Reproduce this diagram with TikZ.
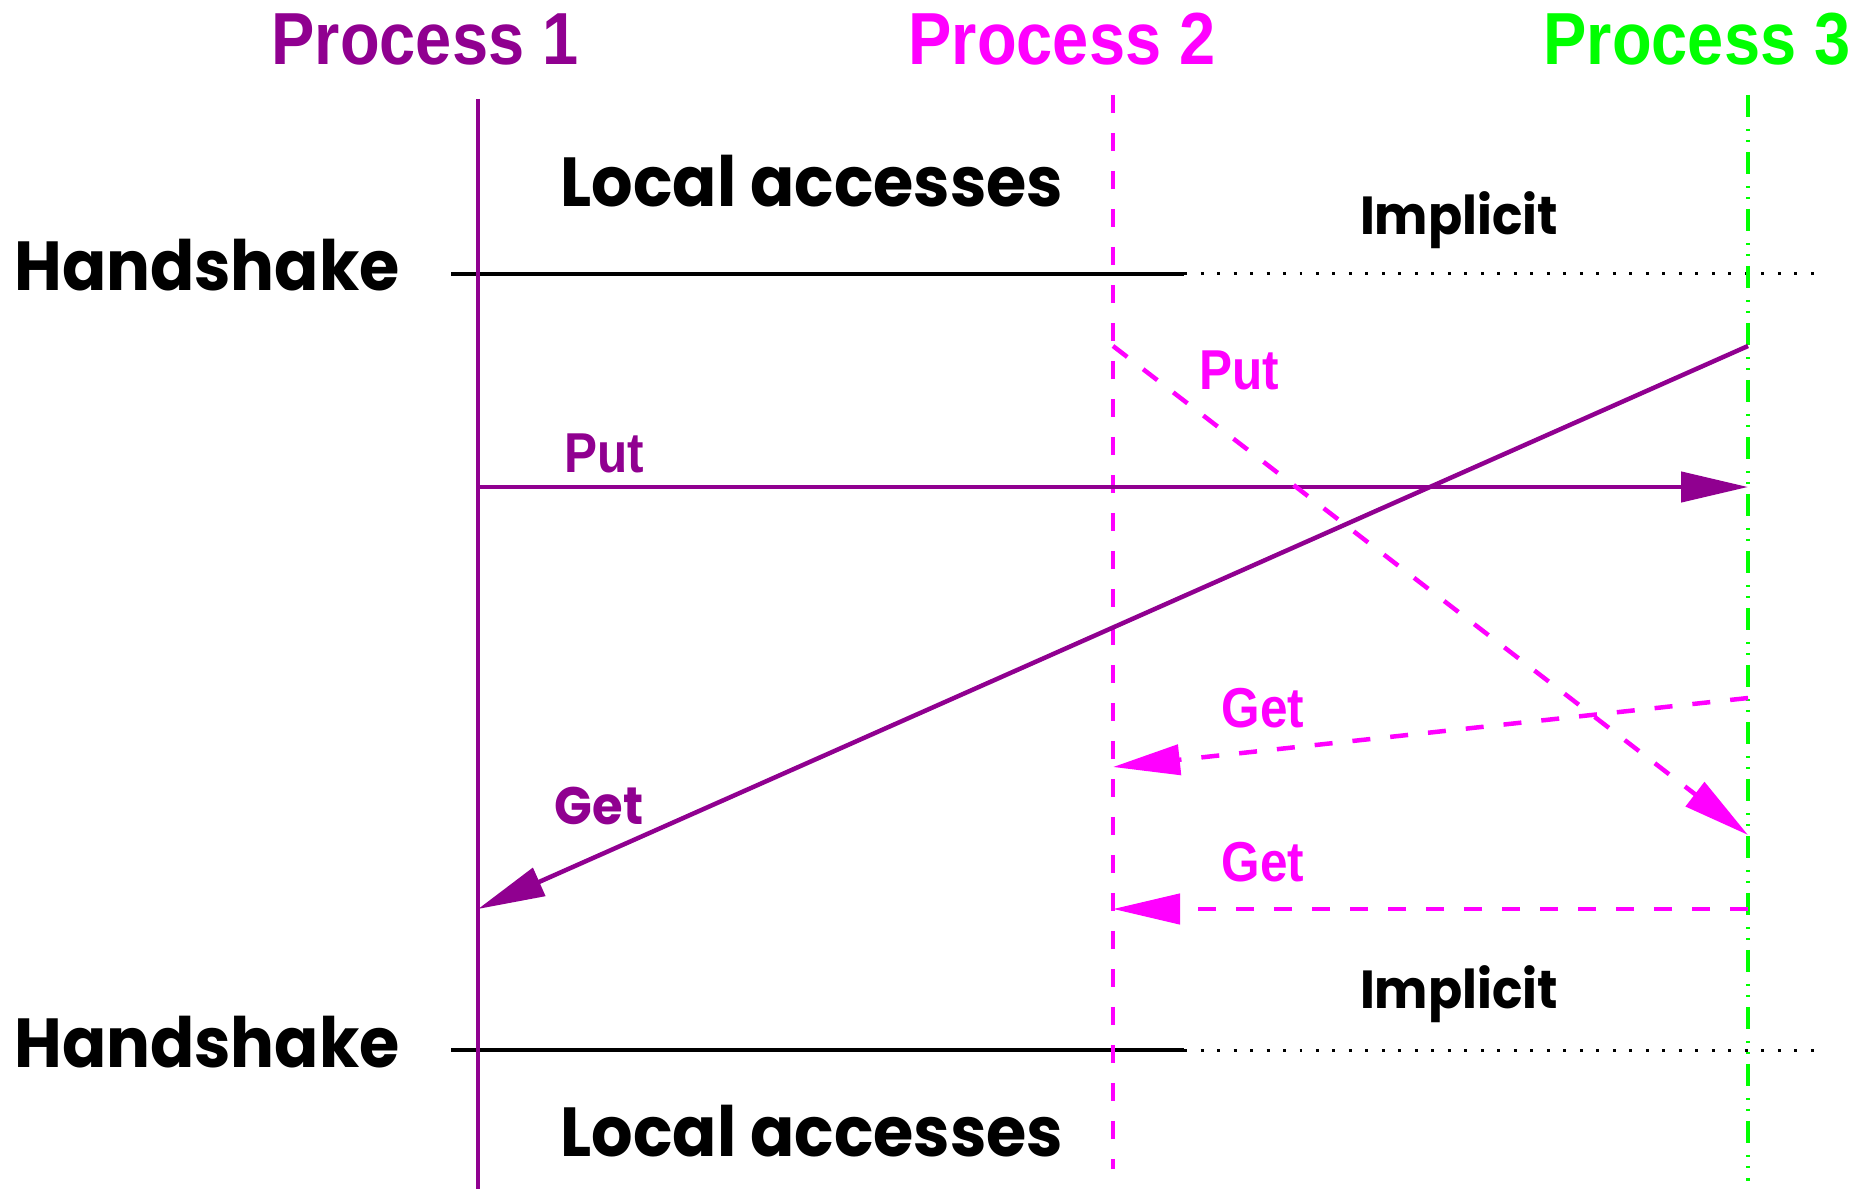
\documentclass[tikz,border=0pt]{standalone}
\usepackage{fontspec}
\usepackage{tikz}
\usetikzlibrary{arrows.meta, positioning}
\setmainfont{Poppins}
\newfontfamily\geofont{Poppins}[FakeStretch=0.94]
\newfontfamily\narrowfont{Liberation Sans}[FakeStretch=0.88]
\definecolor{procA}{RGB}{144,0,144}
\definecolor{procB}{RGB}{255,0,255}
\definecolor{procC}{RGB}{0,255,0}

\begin{document}
\begin{tikzpicture}[
    x=0.02cm, y=-0.02cm,
    title/.style={font=\narrowfont\bfseries\fontsize{42}{42}\selectfont, inner sep=0pt},
    phase/.style={font=\geofont\bfseries\fontsize{39.5}{40}\selectfont, inner sep=0pt},
    note/.style={font=\geofont\bfseries\fontsize{30.5}{31}\selectfont, inner sep=0pt},
    msglbl/.style={font=\narrowfont\bfseries\fontsize{32}{32}\selectfont, inner sep=0pt},
    life/.style={line width=0.09cm},
    dashlife/.style={line width=0.09cm, dash pattern=on 0.36cm off 0.4cm},
    dotlife/.style={line width=0.09cm, dash pattern=on 0.44cm off 0.24cm on 0.04cm off 0.18cm on 0.04cm off 0.2cm},
    sync/.style={line width=0.085cm, black},
    implicit/.style={line width=0.06cm, black, dash pattern=on 0.06cm off 0.27cm},
    msg/.style={line width=0.09cm, -{Triangle[length=1.34cm, width=0.6cm]}},
    dashmsg/.style={msg, dash pattern=on 0.36cm off 0.4cm}
]
\useasboundingbox (0,0) rectangle (1871,1189);

% --- Process titles ---
\node[title, text=procA] (p1) at (425,39) {Process 1};
\node[title, text=procB] (p2) at (1062,39) {Process 2};
\node[title, text=procC] (p3) at (1697,39) {Process 3};

% --- Lifeline ends ---
\coordinate (p1top) at (478,99);
\coordinate (p1bot) at (478,1189);
\coordinate (p2top) at (1113,95);
\coordinate (p2bot) at (1113,1169);
\coordinate (p3top) at (1748,95);
\coordinate (p3bot) at (1748,1181);

% --- Handshakes ---
\coordinate (hsAl) at (451,274);
\coordinate (hsAm) at (1184,274);
\coordinate (hsAr) at (1814,274);
\coordinate (hsBl) at (451,1050);
\coordinate (hsBm) at (1184,1050);
\coordinate (hsBr) at (1814,1050);

\node[phase, anchor=west] (hsA) at (14,265) {Handshake};
\node[phase, anchor=west] (hsB) at (14,1042) {Handshake};
\node[phase] (locA) at (812,181) {Local accesses};
\node[phase] (locB) at (812,1131) {Local accesses};
\node[note] (impA) at (1459,220) {Implicit};
\node[note] (impB) at (1459,994) {Implicit};

\draw[sync] (hsAl) -- (hsAm);
\draw[implicit] (hsAm) -- (hsAr);
\draw[sync] (hsBl) -- (hsBm);
\draw[implicit] (hsBm) -- (hsBr);

% --- Lifelines ---
\draw[life, procA] (p1top) -- (p1bot);
\draw[dashlife, procB] (p2top) -- (p2bot);
\draw[dotlife, procC] (p3top) -- (p3bot);

% --- Message end points ---
\coordinate (putAs) at (478,487);
\coordinate (putAt) at (1748,487);
\coordinate (getAs) at (1748,346);
\coordinate (getAt) at (478,909);
\coordinate (putBs) at (1113,346);
\coordinate (putBt) at (1748,835);
\coordinate (getBs) at (1748,698);
\coordinate (getBt) at (1113,767);
\coordinate (getCs) at (1748,909);
\coordinate (getCt) at (1113,909);

% === Messages ===
\draw[msg, procA] (putAs) -- (putAt);
\draw[msg, procA] (getAs) -- (getAt);
\draw[dashmsg, procB] (putBs) -- (putBt);
\draw[dashmsg, procB] (getBs) -- (getBt);
\draw[dashmsg, procB] (getCs) -- (getCt);

\node[msglbl, text=procA] (lblPutA) at (604,453) {Put};
\node[msglbl, text=procA, font=\geofont\bfseries\fontsize{30}{30}\selectfont] (lblGetA) at (599,806) {Get};
\node[msglbl, text=procB] (lblPutB) at (1239,370) {Put};
\node[msglbl, text=procB] (lblGetB) at (1263,708) {Get};
\node[msglbl, text=procB] (lblGetC) at (1263,862) {Get};

\end{tikzpicture}
\end{document}
